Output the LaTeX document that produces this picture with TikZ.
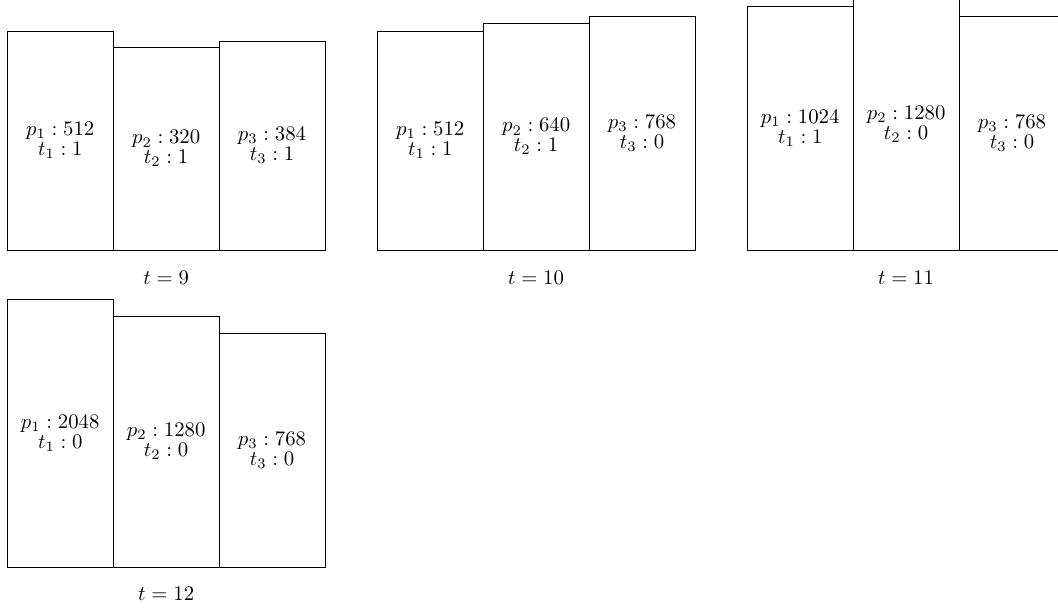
\documentclass[tikz,border=0pt]{standalone}
\begin{document}
\begin{tikzpicture}[x=0.4818pt,y=-0.4818pt,
  barline/.style={draw=black, line width=0.45pt},
  bartext/.style={inner sep=0pt},
  steplabel/.style={inner sep=0pt}]
\useasboundingbox (0,0) rectangle (1058,609);
\clip (0,0) rectangle (1058,609);
\newcommand\mybar[6]{%
  \draw[barline] (#2,#3) rectangle ({#2+105.9},#4);
  \node[bartext] (#1) at ({#2+52.95},{(#3+#4)/2}) {${\textstyle #5 \atop \textstyle #6}$};}
% t = 9
\mybar{a1}{7.3}{31}{250.3}{p_1 : 512}{t_1 : 1}
\mybar{a2}{113.2}{47.3}{250.3}{p_2 : 320}{t_2 : 1}
\mybar{a3}{219.1}{41}{250.3}{p_3 : 384}{t_3 : 1}
\node[steplabel] (la) at (166.2,278.3) {$t = 9$};
% t = 10
\mybar{b1}{377.3}{31}{250.3}{p_1 : 512}{t_1 : 1}
\mybar{b2}{483.2}{23.3}{250.3}{p_2 : 640}{t_2 : 1}
\mybar{b3}{589.1}{16.3}{250.3}{p_3 : 768}{t_3 : 0}
\node[steplabel] (lb) at (536,278.3) {$t = 10$};
% t = 11
\mybar{c1}{747.3}{6.3}{250.3}{p_1 : 1024}{t_1 : 1}
\mybar{c2}{853.2}{-1}{250.3}{p_2 : 1280}{t_2 : 0}
\mybar{c3}{959.1}{16.3}{250.3}{p_3 : 768}{t_3 : 0}
\node[steplabel] (lc) at (906,278.3) {$t = 11$};
% t = 12
\mybar{d1}{7.3}{299}{567.3}{p_1 : 2048}{t_1 : 0}
\mybar{d2}{113.2}{316}{567.3}{p_2 : 1280}{t_2 : 0}
\mybar{d3}{219.1}{333.3}{567.3}{p_3 : 768}{t_3 : 0}
\node[steplabel] (ld) at (166.2,593.5) {$t = 12$};
\end{tikzpicture}
\end{document}
